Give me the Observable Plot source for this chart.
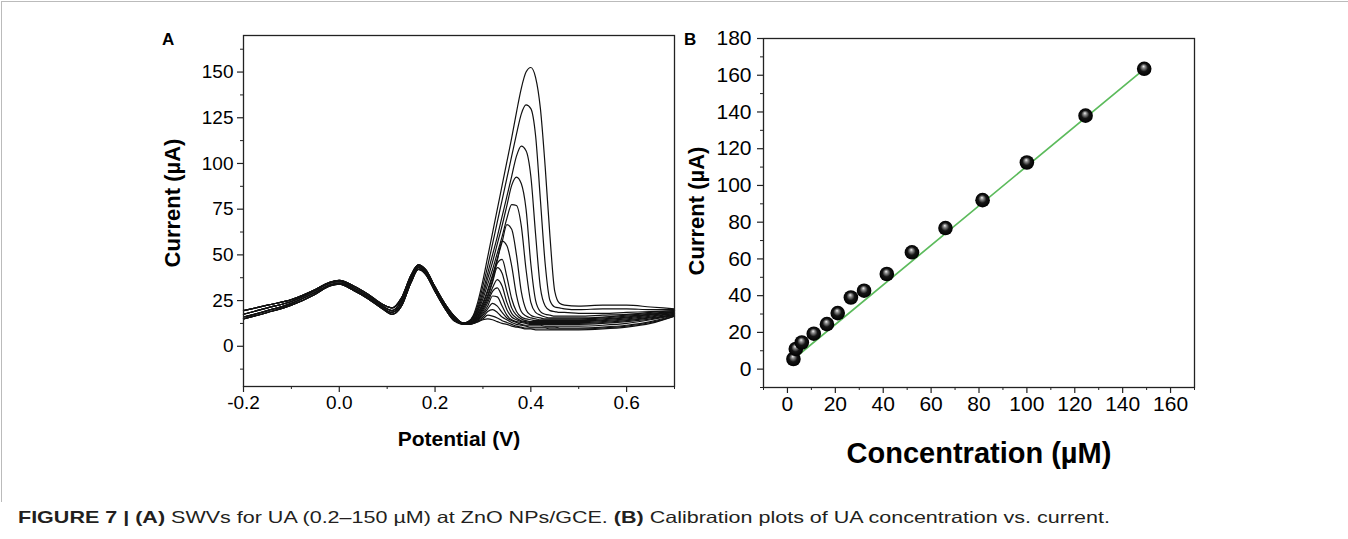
<!DOCTYPE html>
<html><head><meta charset="utf-8">
<script src="https://cdn.jsdelivr.net/npm/d3@7"></script>
<script src="https://cdn.jsdelivr.net/npm/@observablehq/plot@0.6"></script>
<style>
html,body{margin:0;padding:0;background:#fff;}
#root{position:relative;width:1348px;height:539px;overflow:hidden;font-family:"Liberation Sans",Arial,sans-serif;color:#000;}
.abs{position:absolute;white-space:nowrap;line-height:1;}
.b{font-weight:bold;}
.ctr{transform:translate(-50%,-50%);}
.rot{transform:translate(-50%,-50%) rotate(-90deg);}
#border{position:absolute;left:1px;top:1px;width:1400px;height:500px;border-top:1px solid #bbb;border-left:1px solid #bbb;}
#caption{position:absolute;left:18px;top:508px;font-family:"Liberation Sans Narrow","Liberation Sans",Arial,sans-serif;font-size:16.5px;color:#231f20;transform-origin:0 0;white-space:nowrap;}
</style></head>
<body><div id="root">
<div id="border"></div>
<div id="pa" style="position:absolute;left:0;top:0"></div>
<div id="pb" style="position:absolute;left:700px;top:0"></div>
<div class="abs b" style="left:162px;top:31px;font-size:17px">A</div>
<div class="abs b" style="left:684px;top:31px;font-size:17px">B</div>
<div class="abs b rot" style="left:173px;top:203px;font-size:22px">Current (µA)</div>
<div class="abs b rot" style="left:697px;top:211px;font-size:22px">Current (µA)</div>
<div class="abs b ctr" style="left:459px;top:438px;font-size:21px">Potential (V)</div>
<div class="abs b ctr" style="left:979px;top:453px;font-size:29px">Concentration (µM)</div>
<div id="caption"><b>FIGURE 7 | (A)</b> SWVs for UA (0.2–150 µM) at ZnO NPs/GCE. <b>(B)</b> Calibration plots of UA concentration vs. current.</div>
</div>
<script>
// ---------- Panel A: square-wave voltammograms ----------
const aPotentialBase = [-0.2, -0.15, -0.1, -0.05, -0.02, 0.0, 0.03, 0.06, 0.09, 0.11, 0.13, 0.15, 0.165, 0.18, 0.2, 0.22, 0.24];
const aBase1 = [19.5, 22.5, 25.5, 31, 35, 36, 33, 28.5, 23, 21, 26.5, 39, 44.5, 42, 32.5, 23.5, 16.5];
const aBase2 = [17.5, 21, 24.5, 30.5, 34.5, 35.5, 32, 27.5, 22, 19.5, 25, 38, 44, 41, 31.5, 22.5, 15.5];
const aBase3 = [16, 19.5, 23.5, 29.5, 33.5, 34.5, 31, 26.5, 21, 18.5, 23.5, 36.5, 43, 40, 30.5, 21.5, 14.5];
const aBase4 = [15, 18.5, 22.5, 28.5, 33, 34, 30.5, 26, 20.5, 17.5, 22, 35, 42, 39.5, 30, 21, 14];

const aPotentialPeak = [0.26,0.27,0.28,0.29,0.30,0.31,0.32,0.33,0.34,0.35,0.36,0.37,0.38,0.39,0.40,0.41,0.42,0.43,0.44,0.45,0.46,0.47,0.50,0.55,0.60,0.65,0.70];
const aCurrent1  = [12.5,13.5,17,25,36,49,62,75,88,101,114,128,141,150,152.5,147,130,98,60,30,23.5,22.5,22,22.5,22.5,21.5,20.5];
const aCurrent2  = [12.5,13.5,16.5,23,33,44,56,68,80,92,104,116,127,132,130,115,80,45,25,21.5,21,20.5,20,20.5,20.5,20,20];
const aCurrent3  = [12.5,13.5,16,21.5,30,40,50,60,71,82,93,104,109.5,107,93,61,32,22,19.5,19,18.5,18.5,18,18,18.5,19,19.5];
const aCurrent4  = [12.5,13.5,15.5,20.5,28,37,46,56,66,77,88,92.5,89,75,45,25,19,17.5,17,16.5,16.5,16.5,16.5,17,17.5,18.5,19.5];
const aCurrent5  = [12.5,13.5,15,19.5,26,34,42,51,60,70,77.5,77,66,42,24,18.5,17,16,15.5,15.5,15.5,15.5,15.5,16,17,18,19];
const aCurrent6  = [12.5,13.5,14.5,18.5,24,31,39,48,57,66.5,64,50,30,20,17,16,15.5,15,15,15,15,15,15,15.5,16.5,17.5,19];
const aCurrent7  = [12.5,13,14,18,23,30,38,47,57.5,55,44,28,19,16.5,15.5,15,14.5,14.5,14.5,14.5,14.5,14.5,14.5,15,16,17.5,18.5];
const aCurrent8  = [12.5,13,14,17,22,28,36,45.5,47.5,38,26,19,16,15,14.5,14,14,14,14,14,14,14,14,14.5,15.5,17,18.5];
const aCurrent9  = [12.5,13,13.5,16.5,21,27,35,43,40,30,21,17,15,14,13.5,13.5,13.5,13.5,13.5,13.5,13.5,13.5,13.5,14,15,16.5,18];
const aCurrent10 = [12.5,13,13.5,16,20,25.5,32,36.5,33,24,18,15.5,14,13.5,13,13,13,13,13,13,13,13,13,13.5,14.5,16,18];
const aCurrent11 = [12.5,13,13,15.5,19,24,30,32,27,20,16,14.5,13.5,13,12.5,12.5,12.5,12.5,12.5,12.5,12.5,12.5,12.5,13,14,15.5,17.5];
const aCurrent12 = [12.5,12.5,13,15,18,22,27.5,27,22,17,14.5,13.5,13,12.5,12,12,12,12,12,12,12,12,12,12.5,13.5,15,17.5];
const aCurrent13 = [12.5,12.5,13,14.5,17,20.5,23.5,22,18.5,15.5,14,13,12,11.5,11.5,11.5,11.5,11,11,11,11,11,11,11.5,12.5,14.5,17];
const aCurrent14 = [12,12,12.5,14,16,19,20,18.5,16,14.5,13,12,11.5,11,10.5,10.5,10.5,10.5,10.5,10.5,10,10,10,10.5,11.5,13.5,17];
const aCurrent15 = [12,12,12.5,13.5,15,17,16.5,15.5,14,13,12,11,10.5,10,10,10,10,10,9.5,9.5,9.5,9.5,9.5,10,11,13,16.5];
const aCurrent16 = [12,12,12.5,13.5,14.5,15,14.5,13.5,12.5,12,11,10.5,10,9.5,9.5,9,9,9,9,9,9,9,9,9.5,10.5,12.5,16.5];

const aTicksX = [-0.2, 0.0, 0.2, 0.4, 0.6];
const aMinorX = [-0.1, 0.1, 0.3, 0.5, 0.7];
const aTicksY = [0, 25, 50, 75, 100, 125, 150];
const aMinorY = [-12.5, 12.5, 37.5, 62.5, 87.5, 112.5, 137.5, 162.5];

// ---------- Panel B: calibration ----------
const bConcentration = [2.5, 3.5, 6, 11, 16.5, 21, 26.5, 32, 41.5, 52, 66, 81.5, 100, 124.5, 149];
const bCurrent = [5.5, 11, 14.5, 19.3, 24.5, 30.5, 39, 42.7, 51.8, 63.6, 76.8, 92, 112.5, 138, 163.5];
const bFitConcentration = [2.8, 149];
const bFitCurrent = [5.8, 163.3];
const bTicksX = [0, 20, 40, 60, 80, 100, 120, 140, 160];
const bMinorX = [-10, 10, 30, 50, 70, 90, 110, 130, 150, 170];
const bTicksY = [0, 20, 40, 60, 80, 100, 120, 140, 160, 180];
const bMinorY = [-10, 10, 30, 50, 70, 90, 110, 130, 150, 170];

// build tables
const aBases = [aBase1, aBase2, aBase3, aBase4];
const aCurves = [aCurrent1,aCurrent2,aCurrent3,aCurrent4,aCurrent5,aCurrent6,aCurrent7,aCurrent8,aCurrent9,aCurrent10,aCurrent11,aCurrent12,aCurrent13,aCurrent14,aCurrent15,aCurrent16];
const aRows = [];
aCurves.forEach((cur, k) => {
  const base = aBases[k % 4];
  aPotentialBase.forEach((v, j) => aRows.push({curve: k, v, i: base[j]}));
  aPotentialPeak.forEach((v, j) => aRows.push({curve: k, v, i: cur[j]}));
});
const bRows = bConcentration.map((c, j) => ({c, i: bCurrent[j]}));
const bFitRows = bFitConcentration.map((c, j) => ({c, i: bFitCurrent[j]}));

const font = "Liberation Sans, Arial, sans-serif";
const blank = () => "";

const plotA = Plot.plot({
  width: 700, height: 440,
  marginLeft: 243, marginRight: 26, marginTop: 35, marginBottom: 54,
  x: {domain: [-0.2, 0.7]},
  y: {domain: [-22, 170]},
  style: {fontFamily: font, fontSize: "19px", color: "#000", background: "transparent", overflow: "visible"},
  marks: [
    Plot.line(aRows, {x: "v", y: "i", z: "curve", stroke: "#111", strokeWidth: 1.2, curve: "monotone-x"}),
    Plot.frame({stroke: "#222", strokeWidth: 1.3}),
    Plot.axisY(aTicksY, {tickSize: 6, tickPadding: 4, label: null, stroke: "#222", strokeWidth: 1.2}),
    Plot.axisY(aMinorY, {tickSize: 3, tickPadding: 0, tickFormat: blank, label: null, stroke: "#222"}),
    Plot.axisX(aTicksX, {tickSize: 6, tickPadding: 3, label: null, tickFormat: d => d.toFixed(1), stroke: "#222", strokeWidth: 1.2}),
    Plot.axisX(aMinorX, {tickSize: 3, tickPadding: 0, tickFormat: blank, label: null, stroke: "#222"})
  ]
});
document.getElementById("pa").appendChild(plotA);

const plotB = Plot.plot({
  width: 520, height: 440,
  marginLeft: 63, marginRight: 26, marginTop: 38, marginBottom: 53,
  x: {domain: [-10, 170]},
  y: {domain: [-10, 180]},
  style: {fontFamily: font, fontSize: "21px", color: "#000", background: "transparent", overflow: "visible"},
  marks: [
    Plot.frame({stroke: "#222", strokeWidth: 1.3}),
    Plot.axisY(bTicksY, {tickSize: 6, tickPadding: 6, label: null, stroke: "#222", strokeWidth: 1.2}),
    Plot.axisY(bMinorY, {tickSize: 3, tickPadding: 0, tickFormat: blank, label: null, stroke: "#222"}),
    Plot.axisX(bTicksX, {tickSize: 6, tickPadding: 3, label: null, stroke: "#222", strokeWidth: 1.2}),
    Plot.axisX(bMinorX, {tickSize: 3, tickPadding: 0, tickFormat: blank, label: null, stroke: "#222"}),
    Plot.line(bFitRows, {x: "c", y: "i", stroke: "#5cbb5c", strokeWidth: 1.7}),
    Plot.dot(bRows, {x: "c", y: "i", r: 7.3, fill: "url(#ball)", stroke: "none"})
  ]
});
const defs = document.createElementNS("http://www.w3.org/2000/svg", "defs");
defs.innerHTML = '<radialGradient id="ball" cx="0.5" cy="0.5" r="0.5" fx="0.45" fy="0.32"><stop offset="0" stop-color="#f4f4f4"/><stop offset="0.2" stop-color="#949494"/><stop offset="0.55" stop-color="#151515"/><stop offset="1" stop-color="#000"/></radialGradient>';
plotB.insertBefore(defs, plotB.firstChild);
document.getElementById("pb").appendChild(plotB);

// fit caption to reference width
const cap = document.getElementById("caption");
const w = cap.getBoundingClientRect().width;
cap.style.transform = `scaleX(${1092 / w})`;
</script>
</body></html>
